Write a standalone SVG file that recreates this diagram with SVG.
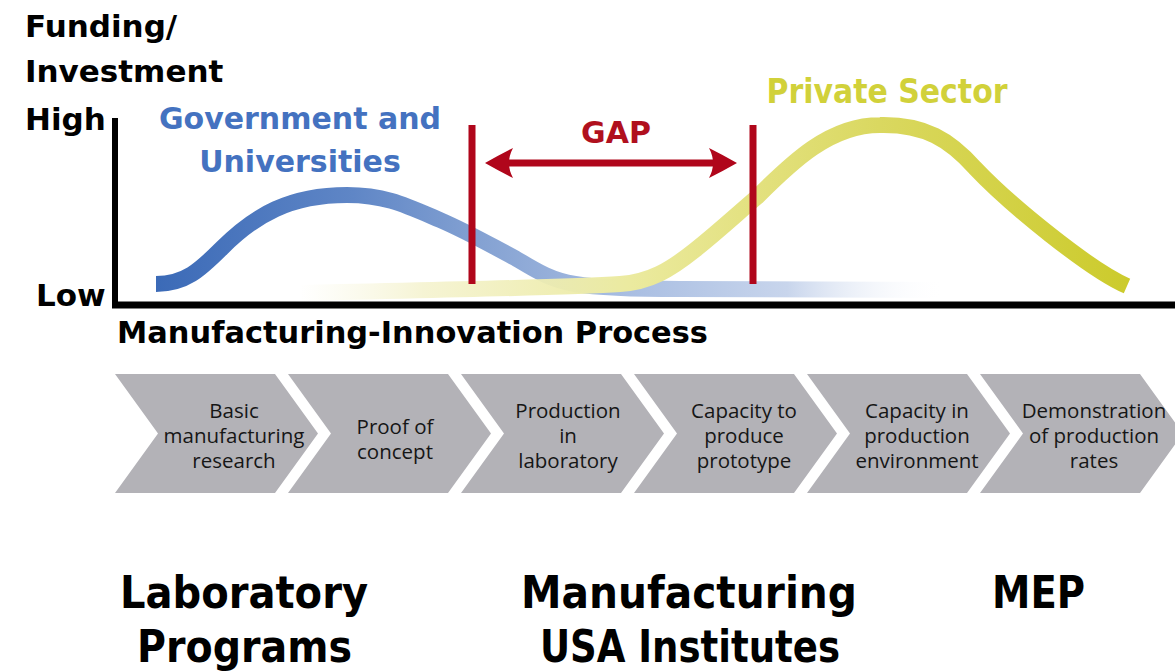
<svg xmlns="http://www.w3.org/2000/svg" xmlns:xlink="http://www.w3.org/1999/xlink" width="1175" height="671" viewBox="0 0 1175 671">
<defs>
<style>
.lbl{font-family:"DejaVu Sans","Liberation Sans",sans-serif;font-weight:bold;fill:#000;font-size:31px}
.big{font-family:"DejaVu Sans Condensed","DejaVu Sans","Liberation Sans",sans-serif;font-stretch:condensed;font-weight:bold;fill:#000;font-size:44px}
.step{font-family:"Open Sans","Liberation Sans",sans-serif;font-size:20.5px;fill:#161616;text-anchor:middle}
.chev{fill:#b3b2b7}
.red{stroke:#b0061b;stroke-width:7;fill:none}
</style>
<polygon id="chevShape" points="0,374 160,374 203,433.5 160,493 0,493 43,433.5"/>
<linearGradient id="gBlue" gradientUnits="userSpaceOnUse" x1="156" y1="0" x2="945" y2="0">
<stop offset="0" stop-color="#3b6ab7"/>
<stop offset="0.25" stop-color="#5f86c6"/>
<stop offset="0.42" stop-color="#86a3d3"/>
<stop offset="0.6" stop-color="#a9bee2"/>
<stop offset="0.8" stop-color="#c8d5ec"/>
<stop offset="1" stop-color="#ffffff" stop-opacity="0"/>
</linearGradient>
<linearGradient id="gYellow" gradientUnits="userSpaceOnUse" x1="300" y1="0" x2="1127" y2="0">
<stop offset="0" stop-color="#f6f4d8" stop-opacity="0"/>
<stop offset="0.15" stop-color="#f4f2cc" stop-opacity="0.85"/>
<stop offset="0.4" stop-color="#ebea9f"/>
<stop offset="0.55" stop-color="#e3e17f"/>
<stop offset="0.7" stop-color="#dad860"/>
<stop offset="1" stop-color="#cccb2c"/>
</linearGradient>
<marker id="barb" viewBox="0 0 30 32" refX="15" refY="16" markerWidth="30" markerHeight="32" markerUnits="userSpaceOnUse" orient="auto-start-reverse">
<path d="M30,16 Q16,8 2,1 Q10,16 2,31 Q16,24 30,16 Z" fill="#b0061b"/>
</marker>
</defs>

<g id="axis-labels">
<text class="lbl" x="25" y="37">Funding/</text>
<text class="lbl" x="25" y="82">Investment</text>
<text class="lbl" x="25" y="130">High</text>
<text class="lbl" x="36" y="306">Low</text>
</g>

<g id="curves">
<path id="gov-curve" d="M156,284 C185,284 200,270 222,248 C255,215 290,195 347,195 C385,195 405,205 440,220 C470,233 490,245 515,258 C535,270 550,280 575,284 C600,288 640,289 680,289 L945,290" fill="none" stroke="url(#gBlue)" stroke-width="16"/>
<path id="private-curve" d="M300,293 C420,290 560,288 620,284 C650,282 670,270 695,250 C720,230 737,214 757,197 C792,162 830,125 880,125 C925,124 950,140 975,168 C1010,205 1090,270 1127,286" fill="none" stroke="url(#gYellow)" stroke-width="16"/>
</g>

<g id="axes">
<line x1="115" y1="118" x2="115" y2="308" stroke="#000" stroke-width="6"/>
<line x1="112" y1="305" x2="1175" y2="305" stroke="#000" stroke-width="7"/>
</g>

<g id="gap">
<line class="red" x1="472" y1="125" x2="472" y2="284"/>
<line class="red" x1="753" y1="125" x2="753" y2="284"/>
<line x1="500" y1="163" x2="722" y2="163" stroke="#b0061b" stroke-width="7" marker-start="url(#barb)" marker-end="url(#barb)"/>
<text x="616" y="143" text-anchor="middle" font-family="DejaVu Sans, Liberation Sans, sans-serif" font-weight="bold" font-size="30" fill="#b0101e">GAP</text>
</g>

<g id="gov-label">
<text x="300" y="129" text-anchor="middle" font-family="DejaVu Sans, Liberation Sans, sans-serif" font-weight="bold" font-size="30" fill="#4472c0">Government and</text>
<text x="300" y="172" text-anchor="middle" font-family="DejaVu Sans, Liberation Sans, sans-serif" font-weight="bold" font-size="30" fill="#4472c0">Universities</text>
</g>

<g id="private-label">
<text x="887" y="103" text-anchor="middle" font-family="DejaVu Sans Condensed, DejaVu Sans, Liberation Sans, sans-serif" font-stretch="condensed" font-weight="bold" font-size="33" fill="#d1d13a" textLength="241" lengthAdjust="spacingAndGlyphs">Private Sector</text>
</g>

<g id="process-title">
<text class="lbl" x="117" y="343" font-size="30" textLength="591" lengthAdjust="spacingAndGlyphs">Manufacturing-Innovation Process</text>
</g>

<g id="step1">
<use xlink:href="#chevShape" class="chev" transform="translate(115,0)"/>
<text class="step" x="234" y="418">Basic</text>
<text class="step" x="234" y="443">manufacturing</text>
<text class="step" x="234" y="468">research</text>
</g>
<g id="step2">
<use xlink:href="#chevShape" class="chev" transform="translate(288,0)"/>
<text class="step" x="395" y="434">Proof of</text>
<text class="step" x="395" y="459">concept</text>
</g>
<g id="step3">
<use xlink:href="#chevShape" class="chev" transform="translate(461,0)"/>
<text class="step" x="568" y="418">Production</text>
<text class="step" x="568" y="443">in</text>
<text class="step" x="568" y="468">laboratory</text>
</g>
<g id="step4">
<use xlink:href="#chevShape" class="chev" transform="translate(634,0)"/>
<text class="step" x="744" y="418">Capacity to</text>
<text class="step" x="744" y="443">produce</text>
<text class="step" x="744" y="468">prototype</text>
</g>
<g id="step5">
<use xlink:href="#chevShape" class="chev" transform="translate(807,0)"/>
<text class="step" x="917" y="418">Capacity in</text>
<text class="step" x="917" y="443">production</text>
<text class="step" x="917" y="468">environment</text>
</g>
<g id="step6">
<use xlink:href="#chevShape" class="chev" transform="translate(980,0)"/>
<text class="step" x="1094" y="418">Demonstration</text>
<text class="step" x="1094" y="443">of production</text>
<text class="step" x="1094" y="468">rates</text>
</g>

<g id="lab-programs">
<text class="big" x="120" y="608" textLength="248" lengthAdjust="spacingAndGlyphs">Laboratory</text>
<text class="big" x="137" y="662" textLength="215" lengthAdjust="spacingAndGlyphs">Programs</text>
</g>
<g id="mfg-usa">
<text class="big" x="521" y="608" textLength="336" lengthAdjust="spacingAndGlyphs">Manufacturing</text>
<text class="big" x="540" y="662" textLength="300" lengthAdjust="spacingAndGlyphs">USA Institutes</text>
</g>
<g id="mep">
<text class="big" x="992" y="608" textLength="93" lengthAdjust="spacingAndGlyphs">MEP</text>
</g>
</svg>
